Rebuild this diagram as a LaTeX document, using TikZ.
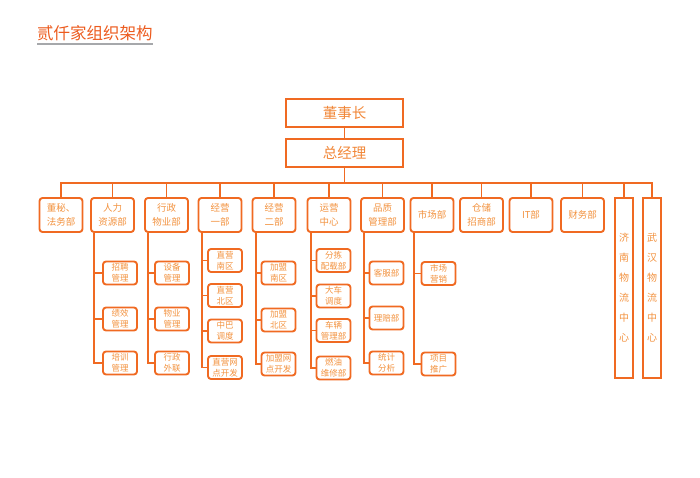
\documentclass[tikz,border=0pt]{standalone}
\usepackage{fontspec}
\usepackage{tikz}
\usetikzlibrary{positioning}
\newfontfamily\cjk{Noto Sans CJK SC}
\definecolor{orgline}{HTML}{F06A22}
\definecolor{orgtext}{HTML}{F2923F}
\definecolor{orgtitle}{HTML}{EC5B1E}
\definecolor{rulegray}{HTML}{A6A8AB}

\begin{document}
\begin{tikzpicture}[x=1pt, y=-1pt,
    boss/.style={draw=orgline, line width=2pt, minimum width=117pt, minimum height=28pt,
      inner sep=0pt, text=orgtext!80!orgtitle, font=\cjk\fontsize{14.5}{16}\selectfont},
    dept/.style={draw=orgline, line width=1.9pt, rounded corners=3pt, minimum width=43pt,
      minimum height=34pt, inner sep=0pt, align=center, text=orgtext,
      font=\cjk\fontsize{9.5}{14}\selectfont},
    sub/.style={dept, minimum width=34pt, minimum height=23pt, font=\cjk\fontsize{8.5}{11}\selectfont},
    centre/.style={draw=orgline, line width=1.9pt, minimum width=18pt, minimum height=180pt,
      inner sep=0pt, align=center, text=orgtext, font=\cjk\fontsize{10}{20}\selectfont},
    link/.style={draw=orgline, line width=1.9pt}
  ]
  \useasboundingbox (0,0) rectangle (700,478);
  % titre
  \node[anchor=west, inner sep=0pt, text=orgtitle, font=\cjk\fontsize{16.5}{18}\selectfont] (title) at (37,33) {贰仟家组织架构};
  \draw[rulegray, line width=2.4pt] ([yshift=-3pt]title.south west) -- ([yshift=-3pt]title.south east);
  % direction
  \node[boss] (dsz) at (344.5,113) {董事长};
  \node[boss] (zjl) at (344.5,153) {总经理};
  % departements
  \node[dept] (dm) at (61,215) {董秘、\\法务部};
  \node[dept] (hr) at (112.5,215) {人力\\资源部};
  \node[dept] (adm) at (166.5,215) {行政\\物业部};
  \node[dept] (jya) at (220,215) {经营\\一部};
  \node[dept] (jyb) at (274,215) {经营\\二部};
  \node[dept] (yy) at (329,215) {运营\\中心};
  \node[dept] (pz) at (382.5,215) {品质\\管理部};
  \node[dept] (sc) at (432,215) {市场部};
  \node[dept] (cc) at (481.5,215) {仓储\\招商部};
  \node[dept] (it) at (531,215) {IT部};
  \node[dept] (cw) at (582.5,215) {财务部};
  \node[centre] (jn) at (624,288) {济\\南\\物\\流\\中\\心};
  \node[centre] (wh) at (652,288) {武\\汉\\物\\流\\中\\心};
  % sous-services
  \node[sub] (hr1) at (120,273) {招聘\\管理};
  \node[sub] (hr2) at (120,319) {绩效\\管理};
  \node[sub] (hr3) at (120,363) {培训\\管理};
  \node[sub] (adm1) at (172,273) {设备\\管理};
  \node[sub] (adm2) at (172,319) {物业\\管理};
  \node[sub] (adm3) at (172,363) {行政\\外联};
  \node[sub] (jya1) at (225,260.5) {直营\\南区};
  \node[sub] (jya2) at (225,295.5) {直营\\北区};
  \node[sub] (jya3) at (225,331) {中巴\\调度};
  \node[sub] (jya4) at (225,367.5) {直营网\\点开发};
  \node[sub] (jyb1) at (278.5,273) {加盟\\南区};
  \node[sub] (jyb2) at (278.5,320) {加盟\\北区};
  \node[sub] (jyb3) at (278.5,364) {加盟网\\点开发};
  \node[sub] (yy1) at (333.5,260.5) {分拣\\配载部};
  \node[sub] (yy2) at (333.5,296) {大车\\调度};
  \node[sub] (yy3) at (333.5,330.5) {车辆\\管理部};
  \node[sub] (yy4) at (333.5,368) {燃油\\维修部};
  \node[sub] (pz1) at (386.5,273) {客服部};
  \node[sub] (pz2) at (386.5,318) {理赔部};
  \node[sub] (pz3) at (386.5,363) {统计\\分析};
  \node[sub] (sc1) at (438.5,273.5) {市场\\营销};
  \node[sub] (sc2) at (438.5,364) {项目\\推广};
  % liaisons
  \coordinate (bus) at (344.5,183);
  \draw[link] (dsz) -- (zjl);
  \draw[link] (zjl) -- (bus);
  \foreach \d in {dm,hr,adm,jya,jyb,yy,pz,sc,cc,it,cw,jn,wh}
    \draw[link] (\d.north) |- (bus);
  \foreach \p/\n in {hr/3,adm/3,jya/4,jyb/3,yy/4,pz/3,sc/2}
    \foreach \i in {1,...,\n}
      \draw[link] ([xshift=4pt]\p.south west) |- (\p\i.west);
\end{tikzpicture}
\end{document}
